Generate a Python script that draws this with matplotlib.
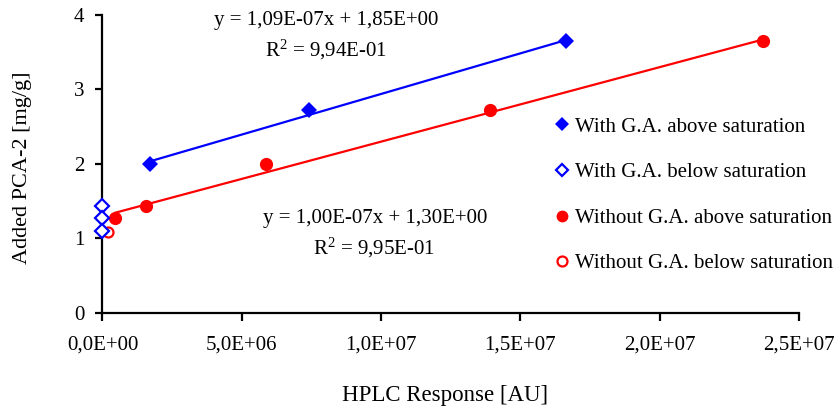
import matplotlib
matplotlib.use("Agg")
import matplotlib.pyplot as plt
from matplotlib.lines import Line2D

plt.rcParams['font.family'] = ['Liberation Serif', 'DejaVu Serif']
plt.rcParams['mathtext.fontset'] = 'custom'
plt.rcParams['mathtext.rm'] = 'Liberation Serif'
plt.rcParams['mathtext.it'] = 'Liberation Serif:italic'

# Data
with_above_x = [1.71e6, 7.40e6, 16.65e6]
with_above_y = [2.00, 2.72, 3.65]
with_below_x = [0.0, 0.0, 0.0]
with_below_y = [1.44, 1.27, 1.10]
without_above_x = [0.46e6, 1.55e6, 5.87e6, 13.9e6, 23.7e6]
without_above_y = [1.27, 1.44, 2.00, 2.72, 3.65]
without_below_x = [0.18e6]
without_below_y = [1.09]

fit_with = (1.09e-07, 1.85)
fit_without = (1.00e-07, 1.30)

x_ticks = [0, 5e6, 1e7, 1.5e7, 2e7, 2.5e7]
x_tick_labels = ["0,0E+00", "5,0E+06", "1,0E+07", "1,5E+07", "2,0E+07", "2,5E+07"]
y_ticks = [0, 1, 2, 3, 4]

labels = ["With G.A. above saturation", "With G.A. below saturation",
          "Without G.A. above saturation", "Without G.A. below saturation"]

BLUE = '#0000FF'
RED = '#FF0000'
FS = 15

fig = plt.figure(figsize=(8.36, 4.12), dpi=100)
ax = fig.add_axes([0.1226, 0.2403, 0.8331, 0.7233])

# trend lines
xs = [min(with_above_x), max(with_above_x)]
ax.plot(xs, [fit_with[0] * v + fit_with[1] for v in xs], color=BLUE, lw=1.6, zorder=2)
xs2 = [min(without_above_x), max(without_above_x)]
ax.plot(xs2, [fit_without[0] * v + fit_without[1] for v in xs2], color=RED, lw=1.6, zorder=2)

ax.plot(with_above_x, with_above_y, 'D', color=BLUE, ms=8.5, mew=0, ls='none', zorder=3, clip_on=False)
ax.plot(with_below_x, with_below_y, 'D', mfc='white', mec=BLUE, ms=6.8, mew=1.6, ls='none', zorder=4, clip_on=False)
ax.plot(without_above_x, without_above_y, 'o', color=RED, ms=9.5, mew=0, ls='none', zorder=3, clip_on=False)
ax.plot(without_below_x, without_below_y, 'o', mfc='white', mec=RED, ms=7.2, mew=1.6, ls='none', zorder=3, clip_on=False)

ax.set_xlim(0, 2.5e7)
ax.set_ylim(0, 4)
ax.set_xticks(x_ticks)
ax.set_xticklabels(x_tick_labels)
ax.set_yticks(y_ticks)
ax.tick_params(axis='both', labelsize=FS, width=1.6, color='black')
ax.tick_params(axis='x', length=6, pad=10)
ax.tick_params(axis='y', length=5, pad=8)
for s in ['top', 'right']:
    ax.spines[s].set_visible(False)
for s in ['left', 'bottom']:
    ax.spines[s].set_linewidth(1.6)

ax.set_xlabel("HPLC Response [AU]", fontsize=16.5)
ax.xaxis.set_label_coords(0.4925, -0.242)
ax.set_ylabel("Added PCA-2 [mg/g]", fontsize=16)
ax.yaxis.set_label_coords(-0.101, 0.488)

# equations
fig.text(326 / 836, 1 - 20 / 412, "y = 1,09E-07x + 1,85E+00", ha='center', va='center', fontsize=FS)
fig.text(326 / 836, 1 - 50 / 412, "R$^2$ = 9,94E-01", ha='center', va='center', fontsize=FS)
fig.text(375 / 836, 1 - 218 / 412, "y = 1,00E-07x + 1,30E+00", ha='center', va='center', fontsize=FS)
fig.text(374 / 836, 1 - 248 / 412, "R$^2$ = 9,95E-01", ha='center', va='center', fontsize=FS)

handles = [
    Line2D([], [], marker='D', color=BLUE, ms=7.5, mew=0, ls='none'),
    Line2D([], [], marker='D', mfc='white', mec=BLUE, ms=6.3, mew=1.6, ls='none'),
    Line2D([], [], marker='o', color=RED, ms=8.5, mew=0, ls='none'),
    Line2D([], [], marker='o', mfc='white', mec=RED, ms=7.2, mew=1.6, ls='none'),
]
fig.legend(handles, labels, loc='upper left', bbox_to_anchor=(556 / 836, 1 - 117 / 412),
           frameon=False, fontsize=FS, handlelength=0.6, handletextpad=0.3,
           labelspacing=1.25, borderpad=0, borderaxespad=0)

fig.savefig("out.png", dpi=100)
